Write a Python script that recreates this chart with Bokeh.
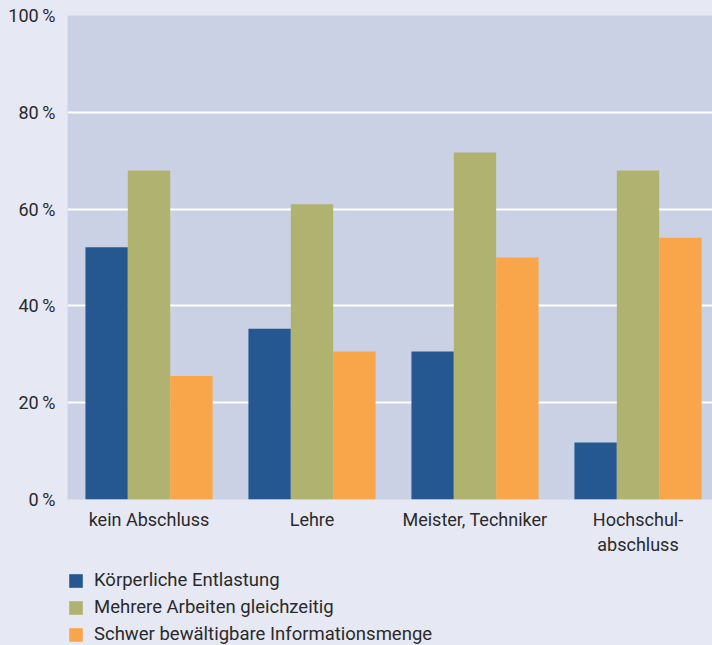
from bokeh.plotting import figure
from bokeh.layouts import column
from bokeh.models import ColumnDataSource, Range1d, FixedTicker, Legend, LegendItem
from bokeh.embed import file_html
from bokeh.resources import INLINE

categories = ["kein Abschluss", "Lehre", "Meister, Techniker", "Hochschul-\nabschluss"]
series_names = ["Körperliche Entlastung", "Mehrere Arbeiten gleichzeitig",
                "Schwer bewältigbare Informationsmenge"]
koerperlich = [52.1, 35.3, 30.6, 11.8]
mehrere = [68.0, 61.0, 71.7, 68.0]
schwer = [25.5, 30.6, 50.0, 54.1]
y_ticks = [0, 20, 40, 60, 80, 100]
y_tick_labels = ["0\u2009%", "20\u2009%", "40\u2009%", "60\u2009%", "80\u2009%", "100\u2009%"]

colors = ["#255891", "#b0b26f", "#f9a64b"]
FONT = "Roboto"
TEXT = "#2a2a2a"
BG = "#e6e8f4"

p = figure(width=712, height=560, output_backend="svg", toolbar_location=None,
           x_range=Range1d(0, 3.957), y_range=Range1d(0, 100),
           min_border_left=67, min_border_right=0, min_border_top=15,
           min_border_bottom=61)
p.background_fill_color = "#cbd1e4"
p.border_fill_color = BG
p.outline_line_color = None

bw = 0.26
offsets = [-bw, 0, bw]
for vals, off, col in zip([koerperlich, mehrere, schwer], offsets, colors):
    xs = [i + 0.5 + off for i in range(len(categories))]
    src = ColumnDataSource(dict(x=xs, top=vals))
    p.vbar(x="x", top="top", bottom=0, width=bw, source=src,
           fill_color=col, line_color=None)

# axes
p.xaxis.ticker = FixedTicker(ticks=[i + 0.5 for i in range(len(categories))])
p.xaxis.major_label_overrides = {i + 0.5: c for i, c in enumerate(categories)}
p.yaxis.ticker = FixedTicker(ticks=y_ticks)
p.yaxis.major_label_overrides = {t: l for t, l in zip(y_ticks, y_tick_labels)}
for ax in (p.xaxis, p.yaxis):
    ax.axis_line_color = None
    ax.major_tick_line_color = None
    ax.minor_tick_line_color = None
    ax.major_tick_out = 0
    ax.major_tick_in = 0
    ax.major_label_text_font = FONT
    ax.major_label_text_font_size = "18px"
    ax.major_label_text_color = TEXT
p.xaxis.major_label_standoff = 9
p.yaxis.major_label_standoff = 12

p.xgrid.grid_line_color = None
p.ygrid.ticker = FixedTicker(ticks=[20, 40, 60, 80])
p.ygrid.grid_line_color = "white"
p.ygrid.grid_line_width = 2

# legend figure
lf = figure(width=712, height=85, output_backend="svg", toolbar_location=None,
            x_range=Range1d(0, 1), y_range=Range1d(0, 1),
            x_axis_type=None, y_axis_type=None,
            min_border_left=0, min_border_right=0, min_border_top=0, min_border_bottom=0)
lf.background_fill_alpha = 0
lf.border_fill_color = BG
lf.outline_line_color = None
lf.grid.visible = False
leg_renderers = []
for col in colors:
    src = ColumnDataSource(dict(x=[-10], top=[0]))
    r = lf.vbar(x="x", top="top", bottom=0, width=0.1, source=src,
                fill_color=col, line_color=None)
    leg_renderers.append(r)

legend = Legend(items=[LegendItem(label=n, renderers=[r]) for n, r in zip(series_names, leg_renderers)],
                location=(0, 0), orientation="vertical")
legend.background_fill_alpha = 0
legend.border_line_color = None
legend.padding = 0
legend.margin = 0
legend.spacing = 5
legend.glyph_width = 17
legend.glyph_height = 17
legend.label_height = 17
legend.label_standoff = 10
legend.label_text_font = FONT
legend.label_text_font_size = "18.5px"
legend.label_text_color = TEXT
lf.add_layout(legend, "center")

page = column(p, lf, spacing=0, styles={"background-color": BG})
open("out.html", "w").write(file_html(page, INLINE))
